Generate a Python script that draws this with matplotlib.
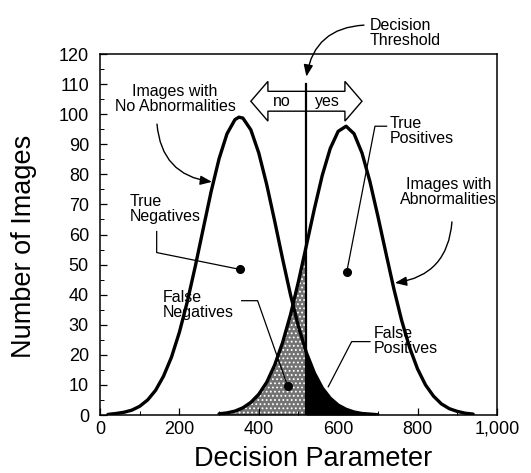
import numpy as np
import matplotlib
matplotlib.use("Agg")
import matplotlib.pyplot as plt
from matplotlib.patches import Polygon
from matplotlib.ticker import MultipleLocator, FuncFormatter

plt.rcParams['font.family'] = ['Liberation Sans', 'DejaVu Sans']
plt.rcParams['hatch.linewidth'] = 0.8

# Distribution of images without abnormalities
normal_x = [20, 40, 60, 80, 100, 120, 140, 160, 180, 200, 220, 240, 260, 280, 300,
            320, 340, 350, 360, 380, 400, 420, 440, 460, 480, 500, 520, 540, 560,
            580, 600, 620, 640, 660, 680, 700]
normal_y = [0.2, 0.5, 0.9, 1.6, 2.9, 5.0, 8.2, 12.9, 19.2, 27.5, 37.7, 49.4, 61.9,
            74.3, 85.2, 93.5, 98.2, 99.0, 98.7, 94.8, 87.1, 76.6, 64.5, 51.9, 39.9,
            29.4, 20.7, 14.0, 9.0, 5.6, 3.3, 1.9, 1.0, 0.5, 0.3, 0.1]

# Distribution of images with abnormalities
abnormal_x = [300, 320, 340, 360, 380, 400, 420, 440, 460, 480, 500, 520, 540, 560,
              580, 600, 620, 640, 660, 680, 700, 720, 740, 760, 780, 800, 820, 840,
              860, 880, 900, 920, 940]
abnormal_y = [0.4, 0.7, 1.3, 2.4, 4.2, 6.9, 10.9, 16.6, 24.1, 33.4, 44.4, 56.4, 68.5,
              79.7, 88.6, 94.3, 96.0, 93.5, 87.1, 77.6, 66.1, 54.0, 42.1, 31.4, 22.4,
              15.3, 10.0, 6.3, 3.7, 2.1, 1.2, 0.6, 0.3]

threshold = 520
threshold_top = 110

xticks = [0, 200, 400, 600, 800, 1000]
yticks = list(range(0, 121, 10))

nx, ny = np.array(normal_x), np.array(normal_y)
ax_, ay_ = np.array(abnormal_x), np.array(abnormal_y)

fig = plt.figure(figsize=(5.31, 4.73), dpi=100)
ax = fig.add_axes([0.1883, 0.1226, 0.7476, 0.7632])

# false negatives: abnormal images below the threshold (stippled)
ax.fill_between(ax_, ay_, where=ax_ <= threshold, facecolor='0.45',
                hatch='....', edgecolor='white', linewidth=0, zorder=1)
# false positives: normal images above the threshold (solid black)
ax.fill_between(nx, ny, where=nx >= threshold, facecolor='black',
                edgecolor='black', linewidth=0, zorder=1)

ax.plot(nx, ny, color='black', lw=2.4, zorder=3, solid_capstyle='round')
ax.plot(ax_, ay_, color='black', lw=2.4, zorder=3, solid_capstyle='round')

# yes/no double arrow around the threshold
cx, cy = threshold, 104.3
half, head, sh, hh = 140, 43, 3.3, 6.6
arrow_pts = [(cx - half, cy), (cx - half + head, cy + hh), (cx - half + head, cy + sh),
             (cx + half - head, cy + sh), (cx + half - head, cy + hh), (cx + half, cy),
             (cx + half - head, cy - hh), (cx + half - head, cy - sh),
             (cx - half + head, cy - sh), (cx - half + head, cy - hh)]
ax.add_patch(Polygon(arrow_pts, closed=True, facecolor='white', edgecolor='black',
                     lw=1.0, zorder=4))
ax.text(458, cy, 'no', ha='center', va='center', fontsize=11.5, zorder=5)
ax.text(572, cy, 'yes', ha='center', va='center', fontsize=11.5, zorder=5)

ax.plot([threshold, threshold], [0, threshold_top], color='black', lw=1.6, zorder=6)

afs = 11.5
arrow_style = '-|>,head_length=0.7,head_width=0.28'
# decision threshold label and arrow
ax.text(680, 127, 'Decision\nThreshold', ha='left', va='center', fontsize=afs,
        linespacing=1.0, clip_on=False)
ax.annotate('', xy=(threshold, 112.5), xytext=(665, 129.6), annotation_clip=False,
            arrowprops=dict(arrowstyle=arrow_style, connectionstyle='arc3,rad=0.4',
                            color='black', lw=1.0, shrinkA=0, shrinkB=0))

# images with no abnormalities
ax.text(189, 105, 'Images with\nNo Abnormalities', ha='center', va='center',
        fontsize=afs, linespacing=1.05)
ax.annotate('', xy=(282, 77.5), xytext=(143.6, 96.7),
            arrowprops=dict(arrowstyle=arrow_style, connectionstyle='arc3,rad=0.4',
                            color='black', lw=1.0, shrinkA=0, shrinkB=0))

# images with abnormalities
ax.text(878, 74.1, 'Images with\nAbnormalities', ha='center', va='center',
        fontsize=afs, linespacing=1.05)
ax.annotate('', xy=(743, 43.9), xytext=(886.6, 64.2),
            arrowprops=dict(arrowstyle=arrow_style, connectionstyle='arc3,rad=-0.4',
                            color='black', lw=1.0, shrinkA=0, shrinkB=0))

# leader lines ending in dots
ax.text(75.6, 68.6, 'True\nNegatives', ha='left', va='center', fontsize=afs,
        linespacing=1.0)
ax.plot([142.8, 142.8, 352.6], [61, 54, 48.4], color='black', lw=0.9, zorder=5)
ax.plot(352.6, 48.4, 'o', color='black', ms=5.5, zorder=5)

ax.text(158.7, 36.7, 'False\nNegatives', ha='left', va='center', fontsize=afs,
        linespacing=1.0, zorder=5)
ax.plot([357, 397, 472.8], [38, 38, 9.6], color='black', lw=0.9, zorder=5)
ax.plot(472.8, 9.6, 'o', color='black', ms=5.5, zorder=5)

ax.text(730.5, 94.3, 'True\nPositives', ha='left', va='center', fontsize=afs,
        linespacing=1.0)
ax.plot([722, 692.7, 621.4], [96, 96, 47.4], color='black', lw=0.9, zorder=5)
ax.plot(621.4, 47.4, 'o', color='black', ms=5.5, zorder=5)

ax.text(690, 24.7, 'False\nPositives', ha='left', va='center', fontsize=afs,
        linespacing=1.0, zorder=5)
ax.plot([680, 634, 575], [24.4, 24.4, 9.4], color='black', lw=0.9, zorder=5)

ax.set_xlim(0, 1000)
ax.set_ylim(0, 120)
ax.set_xticks(xticks)
ax.set_yticks(yticks)
ax.xaxis.set_minor_locator(MultipleLocator(100))
ax.yaxis.set_minor_locator(MultipleLocator(5))
ax.xaxis.set_major_formatter(FuncFormatter(lambda v, p: f'{int(v):,}'))
ax.tick_params(which='major', direction='in', length=5, width=0.9, labelsize=13)
ax.tick_params(which='minor', direction='in', length=3, width=0.7)
ax.tick_params(axis='y', pad=8)
ax.tick_params(axis='x', pad=4)
for s in ax.spines.values():
    s.set_linewidth(1.1)

ax.set_xlabel('Decision Parameter', fontsize=19.5, va='center')
ax.xaxis.set_label_coords(0.537, -0.122)
ax.set_ylabel('Number of Images', fontsize=19.5, va='center')
ax.yaxis.set_label_coords(-0.191, 0.467)

fig.savefig('out.png', dpi=100)
